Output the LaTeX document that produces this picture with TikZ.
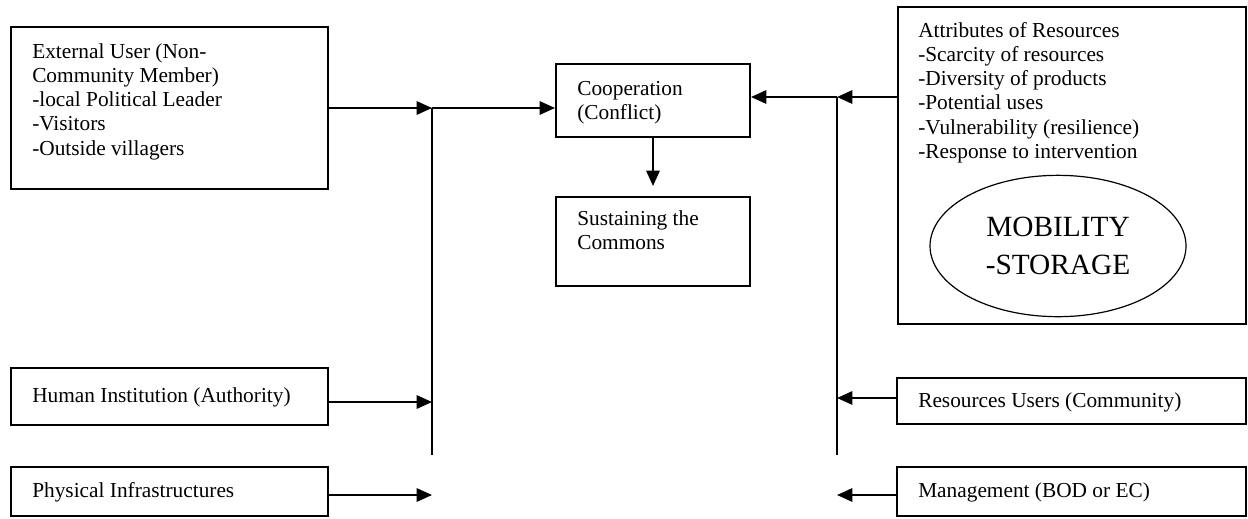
\documentclass[tikz,border=0pt]{standalone}
\usepackage{fontspec}
\setmainfont{Liberation Serif}
\usetikzlibrary{arrows.meta,fit,shapes.geometric}
\newcommand{\lines}[1]{\begin{tabular}[t]{@{}l@{}}#1\end{tabular}}
\begin{document}
\begin{tikzpicture}[x=0.75pt,y=-0.75pt,
  box/.style={draw,line width=1.5pt,inner sep=0pt,rectangle},
  txt/.style={anchor=base west,inner sep=0pt,font=\fontsize{16}{18.2}\selectfont},
  arr/.style={line width=1.5pt,-{Triangle[length=11.5pt,width=10pt]}},
  bar/.style={line width=1.3pt}]
\useasboundingbox (0,0) rectangle (1248,518);
% boxes
\node[box,fit={(11,27) (328,189)}] (ext) {};
\node[box,fit={(11,368) (328,425)}] (hum) {};
\node[box,fit={(11,467) (328,516)}] (phys) {};
\node[box,fit={(556,64) (750,137)}] (coop) {};
\node[box,fit={(556,197) (750,286)}] (sust) {};
\node[box,fit={(898,7) (1246,324)}] (attr) {};
\node[box,fit={(897,378) (1246,424)}] (res) {};
\node[box,fit={(897,467) (1246,516)}] (mgmt) {};
\node[draw,ellipse,line width=0.9pt,minimum width=192pt,minimum height=106pt,inner sep=0pt,
  align=center,font=\fontsize{22}{28.5}\selectfont] (mob) at (1058,246) {MOBILITY\\-STORAGE};
% texts
\node[txt] (extT) at (32,58) {\lines{External User (Non-\\Community Member)\\-local Political Leader\\-Visitors\\-Outside villagers}};
\node[txt] (humT) at (32,402) {Human Institution (Authority)};
\node[txt] (physT) at (32,497) {Physical Infrastructures};
\node[txt] (coopT) at (577,95) {\lines{Cooperation\\(Conflict)}};
\node[txt] (sustT) at (577,225) {\lines{Sustaining the\\Commons}};
\node[txt] (attrT) at (918,37) {\lines{Attributes of Resources\\-Scarcity of resources\\-Diversity of products\\-Potential uses\\-Vulnerability (resilience)\\-Response to intervention}};
\node[txt] (resT) at (918,407) {Resources Users (Community)};
\node[txt] (mgmtT) at (918,497) {Management (BOD or EC)};
% junction coordinates
\coordinate (jL1) at (432,108);
\coordinate (jLb) at (432,455);
\coordinate (jL2) at (432,402);
\coordinate (pL) at (432,495);
\coordinate (jR1) at (837,97);
\coordinate (jRb) at (837,455);
\coordinate (jR2) at (837,398);
\coordinate (mR) at (837,495);
\coordinate (sTip) at (653,186);
% connectors left
\draw[arr] (ext.east |- jL1) -- (jL1);
\draw[bar] (jL1) -- (jLb);
\draw[arr] (jL1) -- (coop.west |- jL1);
\draw[arr] (hum.east |- jL2) -- (jL2);
\draw[arr] (phys.east |- pL) -- (pL);
% centre
\draw[arr] (coop.south) -- (sTip);
% connectors right
\draw[arr] (attr.west |- jR1) -- (jR1);
\draw[bar] (jR1) -- (jRb);
\draw[arr] (jR1) -- (coop.east |- jR1);
\draw[arr] (res.west |- jR2) -- (jR2);
\draw[arr] (mgmt.west |- mR) -- (mR);
\end{tikzpicture}
\end{document}
